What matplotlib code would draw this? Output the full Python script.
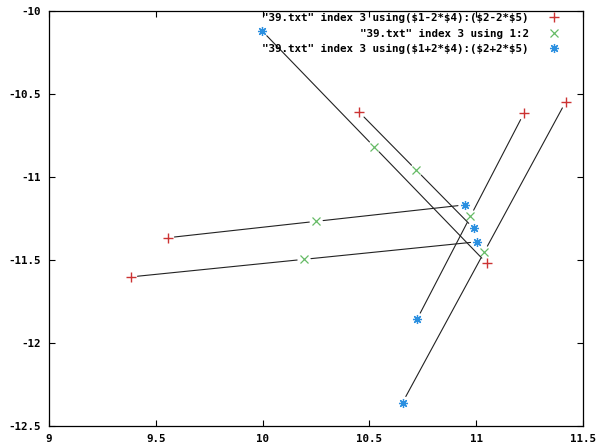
import matplotlib
matplotlib.use("Agg")
import matplotlib.pyplot as plt
import numpy as np

# columns 1,2 (centre) and 4,5 (deltas)
col1 = [10.194, 10.251, 10.720, 10.973, 11.037, 10.523]
col2 = [-11.496, -11.267, -10.959, -11.237, -11.453, -10.819]
col4 = [0.406, 0.348, 0.134, -0.125, -0.191, -0.263]
col5 = [0.053, 0.0495, -0.175, -0.310, -0.453, 0.350]

labels = [r'"39.txt" index 3 using(\$1-2*\$4):(\$2-2*\$5)',
          r'"39.txt" index 3 using 1:2',
          r'"39.txt" index 3 using(\$1+2*\$4):(\$2+2*\$5)']

x = np.array(col1)
y = np.array(col2)
dx = np.array(col4)
dy = np.array(col5)
lo_x, lo_y = x - 2 * dx, y - 2 * dy
hi_x, hi_y = x + 2 * dx, y + 2 * dy

fnt = 'DejaVu Sans Mono'

fig = plt.figure(figsize=(6.01, 4.45), dpi=100)
ax = fig.add_axes([49 / 601, 1 - 426 / 445, (583 - 49) / 601, (426 - 11) / 445])

# black connecting lines, red -> green -> blue
for i in range(len(x)):
    for (xa, ya, xb, yb) in [(lo_x[i], lo_y[i], x[i], y[i]), (x[i], y[i], hi_x[i], hi_y[i])]:
        ax.annotate('', xy=(xb, yb), xytext=(xa, ya),
                    arrowprops=dict(arrowstyle='-', color='#222222', lw=0.8,
                                    shrinkA=5, shrinkB=5))

ax.plot(lo_x, lo_y, ls='none', marker='+', ms=6.5, mew=1.0, color='#cc3333', label=labels[0])
ax.plot(x, y, ls='none', marker='x', ms=5.5, mew=0.9, color='#66bb66', label=labels[1])
ax.plot(hi_x, hi_y, ls='none', marker=(8, 2, 0), ms=6.5, mew=0.9, color='#2a8fe0', label=labels[2])

ax.set_xlim(9, 11.5)
ax.set_ylim(-12.5, -10)
ax.set_xticks([9, 9.5, 10, 10.5, 11, 11.5])
ax.set_yticks([-12.5, -12, -11.5, -11, -10.5, -10])
ax.set_xticklabels(['9', '9.5', '10', '10.5', '11', '11.5'])
ax.set_yticklabels(['-12.5', '-12', '-11.5', '-11', '-10.5', '-10'])
ax.tick_params(direction='in', length=4, width=0.8, top=True, right=True, pad=6)
for t in ax.get_xticklabels() + ax.get_yticklabels():
    t.set_fontfamily(fnt)
    t.set_fontweight('bold')
    t.set_fontsize(7.8)
for s in ax.spines.values():
    s.set_linewidth(0.9)

leg = ax.legend(loc='upper right', bbox_to_anchor=(0.959, 0.995), markerfirst=False,
                frameon=False, prop={'family': fnt, 'weight': 'bold', 'size': 7.8},
                handlelength=1.3, handletextpad=1.7, labelspacing=0.5,
                borderaxespad=0.0, borderpad=0.0)

fig.savefig('out.png', dpi=100)
